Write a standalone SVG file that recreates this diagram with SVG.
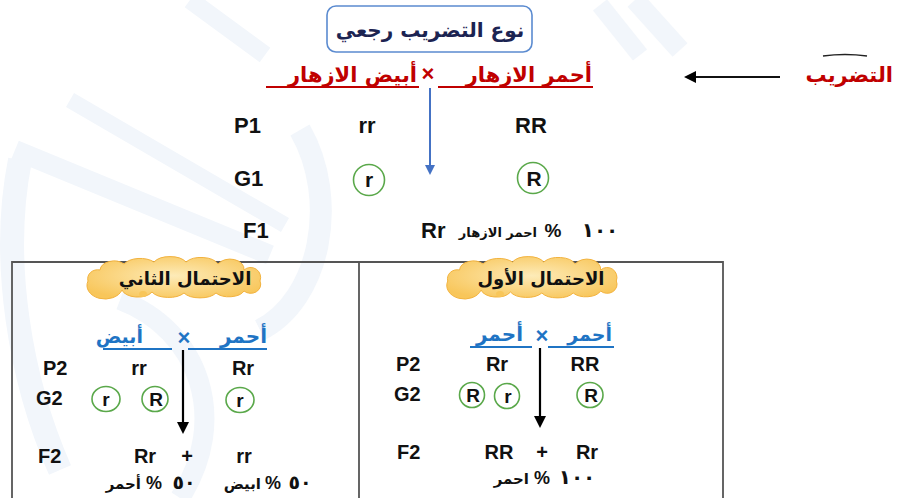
<svg xmlns="http://www.w3.org/2000/svg" width="899" height="498" viewBox="0 0 899 498">
  <defs>
    <style>
      .lat { font-family: "Liberation Sans", Arial, sans-serif; font-weight: bold; fill: #111; }
      .ar { font-family: "DejaVu Sans", "Noto Sans", sans-serif; font-weight: bold; }
      .num { font-family: "DejaVu Sans", "Noto Sans", sans-serif; font-weight: bold; fill: #111; }
      .red { fill: #c00000; }
      .blue { fill: #1f74c4; }
      .ink { fill: #111; }
      .gam { fill: none; stroke: #5aa84a; stroke-width: 1.6; }
      .wm { fill: none; stroke: #f2f6fb; stroke-linecap: butt; }
    </style>
    <radialGradient id="cloudFill" cx="50%" cy="45%" r="60%">
      <stop offset="0" stop-color="#fdebb8"/>
      <stop offset="1" stop-color="#f8c65a"/>
    </radialGradient>
    <path id="cloud" d="M -88,3 a 10 9 0 0 1 12,-11 a 14 10 0 0 1 24,-6 a 18 10 0 0 1 30,-2 a 18 10 0 0 1 32,0 a 18 10 0 0 1 32,2 a 14 10 0 0 1 26,6 a 10 10 0 0 1 16,11 a 10 9 0 0 1 -16,10 a 16 9 0 0 1 -28,2 a 18 9 0 0 1 -32,0 a 18 9 0 0 1 -32,-1 a 16 9 0 0 1 -30,-2 a 12 9 0 0 1 -34,-9 Z"/>
    <marker id="headBlue" markerWidth="10" markerHeight="10" refX="5" refY="5" orient="auto" markerUnits="userSpaceOnUse">
      <path d="M0,0 L10,5 L0,10 Z" fill="#4472c4"/>
    </marker>
    <marker id="headBlack" markerWidth="12" markerHeight="12" refX="6" refY="6" orient="auto" markerUnits="userSpaceOnUse">
      <path d="M0,0 L12,6 L0,12 Z" fill="#000"/>
    </marker>
  </defs>

  <rect width="899" height="498" fill="#ffffff"/>

  <!-- faint background calligraphy strokes -->
  <g id="watermark">
    <path class="wm" stroke-width="16" d="M 70,100 L 285,225"/>
    <path class="wm" stroke-width="20" d="M 15,150 L 270,255"/>
    <path class="wm" stroke-width="24" d="M 20,160 C 0,260 20,380 60,470"/>
    <path class="wm" stroke-width="18" d="M 190,0 L 265,55"/>
    <path class="wm" stroke-width="18" d="M 600,5 L 640,55"/>
    <path class="wm" stroke-width="20" d="M 635,0 L 680,50"/>
    <path class="wm" stroke-width="22" d="M 300,130 C 340,200 320,300 260,330"/>
    <path class="wm" stroke-width="20" d="M 120,300 C 200,330 230,420 180,498"/>
  </g>

  <!-- title -->
  <g id="title">
    <rect x="327" y="6" width="205" height="46" rx="9" fill="#ffffff" stroke="#5b8bd0" stroke-width="1.6"/>
    <text class="ar" x="430" y="37" font-size="20" text-anchor="middle" fill="#1c2452">نوع التضريب رجعي</text>
  </g>

  <!-- cross label -->
  <g id="cross">
    <text class="ar red" x="592" y="82" font-size="21" text-anchor="end">أحمر الازهار</text>
    <text class="ar red" x="417" y="82" font-size="21" text-anchor="end">أبيض الازهار</text>
    <text class="lat red" x="428" y="81" font-size="22" text-anchor="middle">×</text>
    <line x1="438" y1="87" x2="593" y2="87" stroke="#c00000" stroke-width="2.2"/>
    <line x1="266" y1="87" x2="419" y2="87" stroke="#c00000" stroke-width="2.2"/>
  </g>

  <!-- side label -->
  <g id="side-label">
    <text class="ar red" x="893" y="82" font-size="21" text-anchor="end">التضريب</text>
    <path d="M 823,56 Q 845,53 867,56" fill="none" stroke="#222" stroke-width="1.6"/>
  </g>

  <!-- first generation -->
  <g id="gen1">
    <text class="lat" x="234" y="133" font-size="22">P1</text>
    <text class="lat" x="367" y="133" font-size="22" text-anchor="middle">rr</text>
    <text class="lat" x="531" y="133" font-size="22" text-anchor="middle">RR</text>
    <text class="lat" x="234" y="186" font-size="22">G1</text>
    <circle class="gam" cx="369" cy="180" r="15.5"/>
    <text class="lat" x="369" y="187" font-size="21" text-anchor="middle">r</text>
    <circle class="gam" cx="533" cy="178" r="15.5"/>
    <text class="lat" x="534" y="186" font-size="21" text-anchor="middle">R</text>
    <text class="lat" x="243" y="238" font-size="22">F1</text>
    <text class="lat" x="421" y="238" font-size="22">Rr</text>
    <text class="ar ink" x="537" y="237" font-size="13" text-anchor="end">احمر الازهار</text>
    <text class="lat" x="553" y="237" font-size="19" text-anchor="middle">%</text>
    <text class="num" x="600" y="237" font-size="20" text-anchor="middle" letter-spacing="6">١٠٠</text>
  </g>

  <!-- table frame -->
  <g id="table" fill="none" stroke="#555" stroke-width="1.8">
    <path d="M 12,498 L 12,262 L 723,262 L 723,498"/>
    <line x1="359" y1="262" x2="359" y2="498"/>
  </g>

  <!-- second possibility (left cell) -->
  <g id="case-second">
    <use href="#cloud" transform="translate(176,278)" fill="url(#cloudFill)" stroke="#f2b23e" stroke-width="1"/>
    <ellipse cx="143" cy="294" rx="4" ry="3" fill="#f8c65a"/>
    <text class="ar ink" x="185" y="285" font-size="18" text-anchor="middle">الاحتمال الثاني</text>
    <text class="ar blue" x="267" y="343" font-size="20" text-anchor="end">أحمر</text>
    <text class="ar blue" x="143" y="343" font-size="19" text-anchor="end">أبيض</text>
    <text class="lat blue" x="184" y="345" font-size="22" text-anchor="middle">×</text>
    <line x1="188" y1="349" x2="267" y2="349" stroke="#1f74c4" stroke-width="2"/>
    <line x1="103" y1="349" x2="172" y2="349" stroke="#1f74c4" stroke-width="2"/>
    <text class="lat" x="43" y="375" font-size="20">P2</text>
    <text class="lat" x="139" y="375" font-size="20" text-anchor="middle">rr</text>
    <text class="lat" x="243" y="375" font-size="20" text-anchor="middle">Rr</text>
    <text class="lat" x="36" y="405" font-size="20">G2</text>
    <ellipse class="gam" cx="106" cy="399" rx="14" ry="12.5"/>
    <text class="lat" x="106" y="406" font-size="19" text-anchor="middle">r</text>
    <ellipse class="gam" cx="155" cy="399" rx="13" ry="12.5"/>
    <text class="lat" x="156" y="406" font-size="19" text-anchor="middle">R</text>
    <ellipse class="gam" cx="240" cy="400" rx="14" ry="12.5"/>
    <text class="lat" x="240" y="407" font-size="19" text-anchor="middle">r</text>
    <text class="lat" x="38" y="463" font-size="20">F2</text>
    <text class="lat" x="145" y="463" font-size="20" text-anchor="middle">Rr</text>
    <text class="lat" x="187" y="463" font-size="20" text-anchor="middle">+</text>
    <text class="lat" x="244" y="463" font-size="20" text-anchor="middle">rr</text>
    <text class="ar ink" x="141" y="489" font-size="15" text-anchor="end">أحمر</text>
    <text class="lat" x="154" y="489" font-size="18" text-anchor="middle">%</text>
    <text class="num" x="184" y="489" font-size="19" text-anchor="middle" letter-spacing="6">٥٠</text>
    <text class="ar ink" x="261" y="489" font-size="15" text-anchor="end">ابيض</text>
    <text class="lat" x="273" y="489" font-size="18" text-anchor="middle">%</text>
    <text class="num" x="300" y="489" font-size="19" text-anchor="middle" letter-spacing="6">٥٠</text>
  </g>

  <!-- first possibility (right cell) -->
  <g id="case-first">
    <use href="#cloud" transform="translate(534,278) scale(0.98,1)" fill="url(#cloudFill)" stroke="#f2b23e" stroke-width="1"/>
    <ellipse cx="500" cy="294" rx="4" ry="3" fill="#f8c65a"/>
    <text class="ar ink" x="541" y="285" font-size="18" text-anchor="middle">الاحتمال الأول</text>
    <text class="ar blue" x="612" y="341" font-size="19" text-anchor="end">أحمر</text>
    <text class="ar blue" x="523" y="341" font-size="20" text-anchor="end">أحمر</text>
    <text class="lat blue" x="542" y="343" font-size="22" text-anchor="middle">×</text>
    <line x1="548" y1="347" x2="614" y2="347" stroke="#1f74c4" stroke-width="2"/>
    <line x1="470" y1="347" x2="532" y2="347" stroke="#1f74c4" stroke-width="2"/>
    <text class="lat" x="396" y="371" font-size="20">P2</text>
    <text class="lat" x="497" y="371" font-size="20" text-anchor="middle">Rr</text>
    <text class="lat" x="585" y="371" font-size="20" text-anchor="middle">RR</text>
    <text class="lat" x="394" y="401" font-size="20">G2</text>
    <ellipse class="gam" cx="472" cy="395" rx="12.5" ry="12.5"/>
    <text class="lat" x="473" y="402" font-size="19" text-anchor="middle">R</text>
    <ellipse class="gam" cx="507" cy="396" rx="12.5" ry="12.5"/>
    <text class="lat" x="508" y="403" font-size="19" text-anchor="middle">r</text>
    <ellipse class="gam" cx="590" cy="395" rx="13" ry="12.5"/>
    <text class="lat" x="591" y="402" font-size="19" text-anchor="middle">R</text>
    <text class="lat" x="397" y="459" font-size="20">F2</text>
    <text class="lat" x="499" y="459" font-size="20" text-anchor="middle">RR</text>
    <text class="lat" x="542" y="459" font-size="20" text-anchor="middle">+</text>
    <text class="lat" x="587" y="459" font-size="20" text-anchor="middle">Rr</text>
    <text class="ar ink" x="529" y="484" font-size="15" text-anchor="end">احمر</text>
    <text class="lat" x="542" y="484" font-size="18" text-anchor="middle">%</text>
    <text class="num" x="577" y="484" font-size="20" text-anchor="middle" letter-spacing="6">١٠٠</text>
  </g>

  <!-- connectors -->
  <g id="connectors">
    <line x1="430" y1="88" x2="430" y2="170" stroke="#4472c4" stroke-width="2" marker-end="url(#headBlue)"/>
    <line x1="780" y1="77" x2="690" y2="77" stroke="#111" stroke-width="2.2" marker-end="url(#headBlack)"/>
    <line x1="183" y1="350" x2="183" y2="428" stroke="#000" stroke-width="2.2" marker-end="url(#headBlack)"/>
    <line x1="540" y1="348" x2="540" y2="422" stroke="#000" stroke-width="2.2" marker-end="url(#headBlack)"/>
  </g>
</svg>
